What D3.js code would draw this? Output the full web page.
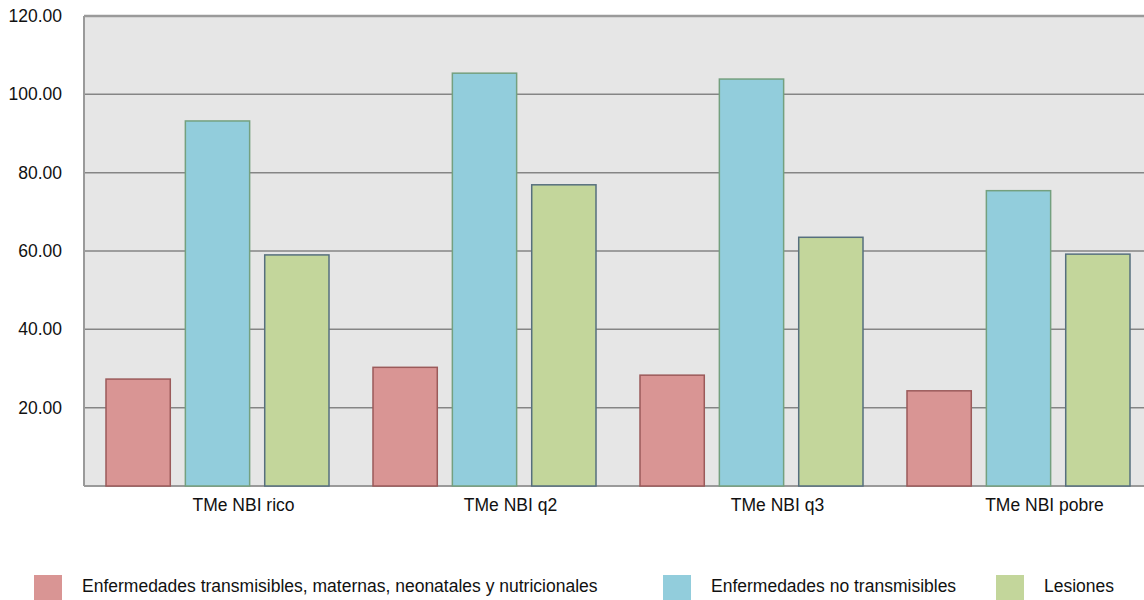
<!DOCTYPE html>
<html>
<head>
<meta charset="utf-8">
<script src="https://cdn.jsdelivr.net/npm/d3@7"></script>
<style>
html,body{margin:0;padding:0;background:#fff;}
text{font-family:"Liberation Sans",Arial,sans-serif;fill:#111;}
</style>
</head>
<body>
<svg id="chart" width="1144" height="600"></svg>
<script>
const categories = ["TMe NBI rico", "TMe NBI q2", "TMe NBI q3", "TMe NBI pobre"];
const seriesNames = ["Enfermedades transmisibles, maternas, neonatales y nutricionales", "Enfermedades no transmisibles", "Lesiones"];
const transmisibles = [27.3, 30.3, 28.3, 24.3];
const noTransmisibles = [93.2, 105.4, 103.9, 75.4];
const lesiones = [59.0, 76.9, 63.5, 59.2];
const yTicks = [20, 40, 60, 80, 100, 120];

const fills = ["#d99594", "#92cddc", "#c3d69b"];
const strokes = ["#9b5a5a", "#74a07f", "#566f7e"];
const seriesValues = [transmisibles, noTransmisibles, lesiones];

const svg = d3.select("#chart");
const mLeft = 84, mRight = 1152, mTop = 16, mBottom = 486;
const fontSize = "17.5px";

const y = d3.scaleLinear().domain([0, 120]).range([mBottom, mTop]);
const x0 = d3.scaleBand().domain(categories).range([mLeft, mRight]).paddingInner(0).paddingOuter(0);
const x1 = d3.scaleBand().domain(d3.range(seriesNames.length)).range([22, x0.step() - 22]).paddingInner(0.19).paddingOuter(0);

// plot background
svg.append("rect").attr("x", mLeft).attr("y", mTop).attr("width", mRight - mLeft).attr("height", mBottom - mTop).attr("fill", "#e6e6e6");

// gridlines
svg.append("g").selectAll("line").data(yTicks).join("line")
  .attr("x1", mLeft).attr("x2", mRight)
  .attr("y1", d => y(d)).attr("y2", d => y(d))
  .attr("stroke", d => d === 120 ? "#9a9a9a" : "#858585")
  .attr("stroke-width", d => d === 120 ? 2.5 : 1.5);

// left and bottom border
svg.append("line").attr("x1", mLeft).attr("x2", mLeft).attr("y1", mTop).attr("y2", mBottom).attr("stroke", "#9a9a9a").attr("stroke-width", 2);
svg.append("line").attr("x1", mLeft).attr("x2", mRight).attr("y1", mBottom).attr("y2", mBottom).attr("stroke", "#9a9a9a").attr("stroke-width", 2);

// y axis labels
const yAxis = d3.axisLeft(y).tickValues(yTicks).tickFormat(d3.format(".2f")).tickSize(0).tickPadding(22);
const gy = svg.append("g").attr("transform", `translate(${mLeft},0)`).call(yAxis);
gy.select(".domain").remove();
gy.selectAll("text").style("font-family", '"Liberation Sans",Arial,sans-serif').style("font-size", fontSize).attr("fill", "#111");

// bars
const groups = svg.append("g").selectAll("g").data(categories).join("g")
  .attr("transform", d => `translate(${x0(d)},0)`);
groups.selectAll("rect").data((c, i) => seriesValues.map((vals, s) => ({s, v: vals[i]}))).join("rect")
  .attr("x", d => x1(d.s))
  .attr("width", x1.bandwidth())
  .attr("y", d => y(d.v))
  .attr("height", d => mBottom - y(d.v))
  .attr("fill", d => fills[d.s])
  .attr("stroke", d => strokes[d.s])
  .attr("stroke-width", 1.5);

// category labels
const xAxis = d3.axisBottom(x0).tickSize(0).tickPadding(13);
const gx = svg.append("g").attr("transform", `translate(26,${mBottom})`).call(xAxis);
gx.select(".domain").remove();
gx.selectAll("text").style("font-family", '"Liberation Sans",Arial,sans-serif').style("font-size", fontSize).attr("fill", "#111");

// legend
const legendX = [34, 663, 996];
const legend = svg.append("g").selectAll("g").data(seriesNames).join("g")
  .attr("transform", (d, i) => `translate(${legendX[i]},575)`);
legend.append("rect").attr("width", 28).attr("height", 25).attr("fill", (d, i) => fills[i]);
legend.append("text").attr("x", 48).attr("y", 17).style("font-size", fontSize).text(d => d);
</script>
</body>
</html>
